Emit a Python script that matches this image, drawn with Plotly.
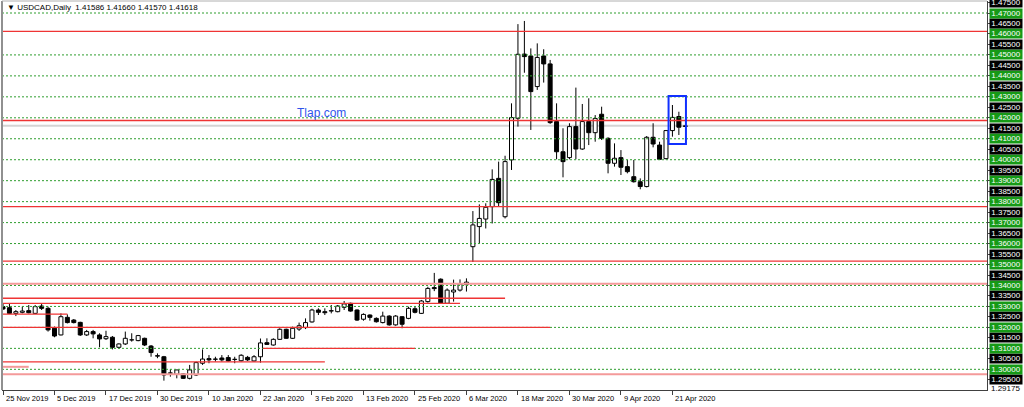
import numpy as np
import plotly.graph_objects as go

# USDCAD daily bars, 25 Nov 2019 .. 23 Apr 2020 (bar index 0..106)
opens = [
    1.3299, 1.3294, 1.3267, 1.3272, 1.3280, 1.3267, 1.3302, 1.3291, 1.3196, 1.3164,
    1.3248, 1.3235, 1.3224, 1.3164, 1.3180, 1.3164, 1.3146, 1.3153, 1.3105, 1.3121,
    1.3140, 1.3137, 1.3148, 1.3111, 1.3065, 1.3060, 1.2981, 1.2976, 1.2978, 1.2957,
    1.2973, 1.3029, 1.3051, 1.3049, 1.3054, 1.3056, 1.3048, 1.3041, 1.3057, 1.3040,
    1.3060, 1.3127, 1.3116, 1.3143, 1.3191, 1.3148, 1.3192, 1.3199, 1.3226, 1.3283,
    1.3275, 1.3278, 1.3275, 1.3296, 1.3315, 1.3283, 1.3239, 1.3259, 1.3243, 1.3223,
    1.3254, 1.3212, 1.3251, 1.3243, 1.3289, 1.3267, 1.3323, 1.3390, 1.3430, 1.3315,
    1.3369, 1.3378, 1.3404, 1.3585, 1.3681, 1.3717, 1.3776, 1.3911, 1.3728, 1.3999,
    1.4198, 1.4504, 1.4495, 1.4349, 1.4495, 1.4457, 1.4182, 1.4038, 1.4010, 1.4158,
    1.4051, 1.4182, 1.4129, 1.4217, 1.4102, 1.3983, 1.4010, 1.3967, 1.3919, 1.3895,
    1.3872, 1.4107, 1.4070, 1.4005, 1.4139, 1.4206, 1.41586,
]
highs = [
    1.3315, 1.3315, 1.3283, 1.3299, 1.3307, 1.3307, 1.3315, 1.3299, 1.3204, 1.3267,
    1.3262, 1.3240, 1.3227, 1.3188, 1.3188, 1.3172, 1.3184, 1.3159, 1.3124, 1.3180,
    1.3172, 1.3164, 1.3151, 1.3116, 1.3076, 1.3064, 1.3000, 1.2997, 1.2981, 1.3021,
    1.3037, 1.3095, 1.3068, 1.3060, 1.3068, 1.3068, 1.3060, 1.3072, 1.3064, 1.3068,
    1.3147, 1.3148, 1.3148, 1.3196, 1.3194, 1.3204, 1.3223, 1.3243, 1.3289, 1.3291,
    1.3291, 1.3307, 1.3307, 1.3326, 1.3318, 1.3286, 1.3267, 1.3262, 1.3248, 1.3275,
    1.3258, 1.3259, 1.3254, 1.3299, 1.3302, 1.3331, 1.3394, 1.3460, 1.3434, 1.3386,
    1.3428, 1.3429, 1.3434, 1.3755, 1.3787, 1.3792, 1.3954, 1.3991, 1.4019, 1.4269,
    1.4647, 1.4662, 1.4531, 1.4555, 1.4527, 1.4476, 1.4269, 1.4150, 1.4174, 1.4344,
    1.4266, 1.4293, 1.4213, 1.4253, 1.4107, 1.4078, 1.4046, 1.3999, 1.3999, 1.3911,
    1.4113, 1.4174, 1.4086, 1.4142, 1.4261, 1.4229, 1.41660,
]
lows = [
    1.3283, 1.3264, 1.3254, 1.3267, 1.3267, 1.3264, 1.3283, 1.3180, 1.3153, 1.3162,
    1.3219, 1.3219, 1.3159, 1.3159, 1.3148, 1.3105, 1.3140, 1.3095, 1.3100, 1.3116,
    1.3132, 1.3134, 1.3111, 1.3060, 1.3053, 1.2946, 1.2965, 1.2957, 1.2954, 1.2952,
    1.2968, 1.3021, 1.3029, 1.3037, 1.3037, 1.3037, 1.3029, 1.3037, 1.3040, 1.3037,
    1.3032, 1.3116, 1.3113, 1.3140, 1.3145, 1.3145, 1.3183, 1.3192, 1.3223, 1.3259,
    1.3259, 1.3267, 1.3272, 1.3283, 1.3275, 1.3231, 1.3232, 1.3232, 1.3223, 1.3219,
    1.3208, 1.3208, 1.3196, 1.3239, 1.3267, 1.3264, 1.3318, 1.3373, 1.3312, 1.3312,
    1.3323, 1.3371, 1.3371, 1.3512, 1.3601, 1.3672, 1.3696, 1.3776, 1.3720, 1.3951,
    1.4158, 1.4415, 1.4142, 1.4333, 1.4368, 1.4171, 1.4002, 1.3916, 1.4002, 1.4002,
    1.4047, 1.4070, 1.4086, 1.4094, 1.3935, 1.3967, 1.3927, 1.3935, 1.3891, 1.3859,
    1.3868, 1.4059, 1.3999, 1.4002, 1.4110, 1.4118, 1.41570,
]
closes = [
    1.3288, 1.3267, 1.3275, 1.3278, 1.3270, 1.3299, 1.3291, 1.3188, 1.3159, 1.3251,
    1.3223, 1.3223, 1.3164, 1.3180, 1.3169, 1.3145, 1.3156, 1.3105, 1.3121, 1.3148,
    1.3141, 1.3161, 1.3116, 1.3080, 1.3063, 1.2973, 1.2983, 1.2997, 1.2957, 1.2997,
    1.3032, 1.3049, 1.3045, 1.3048, 1.3045, 1.3040, 1.3047, 1.3067, 1.3045, 1.3060,
    1.3126, 1.3119, 1.3143, 1.3191, 1.3148, 1.3196, 1.3208, 1.3223, 1.3283, 1.3272,
    1.3270, 1.3280, 1.3302, 1.3312, 1.3278, 1.3235, 1.3262, 1.3248, 1.3227, 1.3254,
    1.3212, 1.3254, 1.3215, 1.3291, 1.3272, 1.3326, 1.3386, 1.3385, 1.3315, 1.3378,
    1.3378, 1.3407, 1.3416, 1.3689, 1.3720, 1.3773, 1.3906, 1.3795, 1.3991, 1.4201,
    1.4503, 1.4492, 1.4325, 1.4488, 1.4457, 1.4177, 1.4038, 1.3991, 1.4158, 1.4051,
    1.4182, 1.4129, 1.4197, 1.4102, 1.3983, 1.4007, 1.3964, 1.3943, 1.3895, 1.3872,
    1.4107, 1.4075, 1.4002, 1.4139, 1.4202, 1.4155, 1.41618,
]

date_labels = [
    "25 Nov 2019", "5 Dec 2019", "17 Dec 2019", "30 Dec 2019", "10 Jan 2020",
    "22 Jan 2020", "3 Feb 2020", "13 Feb 2020", "25 Feb 2020", "6 Mar 2020",
    "18 Mar 2020", "30 Mar 2020", "9 Apr 2020", "21 Apr 2020",
]
bars_per_label = 8

# horizontal line objects on the chart
green_levels = [1.30, 1.31, 1.32, 1.33, 1.34, 1.35, 1.36, 1.37, 1.38,
                1.39, 1.40, 1.41, 1.42, 1.43, 1.44, 1.45, 1.47]
red_levels = [1.4612, 1.4187, 1.3776, 1.3516]
pink_levels = [1.3408, 1.2977]
# short red segments: price, first bar, last bar (None = from the left edge)
seg_levels = [1.3339, 1.3315, 1.3263, 1.3200, 1.3100, 1.3036, 1.3012]
seg_start = [None, None, None, None, 40.4, None, None]
seg_end = [78, 71, 10, 85, 64, 50, 4]
seg_pink = [False, False, False, False, False, False, True]

box_bars = [103.4, 106.1]
box_prices = [1.4075, 1.4304]

bottom_price = 1.29175

# ---- geometry (MT4 window: 6.44 px per bar, ~2096 px per 1.0 price)
X_RANGE = [-0.155, 152.87]
Y_RANGE = [1.290134, 1.475725]
PLOT_L, PLOT_R, PLOT_T, PLOT_B = 2, 987, 1, 390


def px_x(px):
    return (px - PLOT_L) / (PLOT_R - PLOT_L)


def px_y(py):
    return (PLOT_B - py) / (PLOT_B - PLOT_T)


o = np.array(opens)
h = np.array(highs)
l = np.array(lows)
c = np.array(closes)
idx = np.arange(len(o))
body_lo = np.minimum(o, c)
body_hi = np.maximum(o, c)
fill = ["white" if cc >= oo else "black" for oo, cc in zip(o, c)]

wx, wy = [], []
for i in idx:
    wx += [i, i, None, i, i, None]
    wy += [h[i], body_hi[i], None, body_lo[i], l[i], None]

fig = go.Figure()
fig.add_trace(go.Scatter(x=wx, y=wy, mode="lines",
                         line=dict(color="black", width=1), hoverinfo="skip"))
fig.add_trace(go.Bar(x=idx, y=body_hi - body_lo, base=body_lo, width=0.62,
                     marker=dict(color=fill, line=dict(color="black", width=1))))

shapes = []
# bid line
shapes.append(dict(type="line", xref="paper", x0=0, x1=1, y0=closes[-1], y1=closes[-1],
                   line=dict(color="#d4d4d4", width=2), layer="below"))
for v in green_levels:
    shapes.append(dict(type="line", xref="paper", x0=0, x1=1, y0=v, y1=v,
                       line=dict(color="#2f9e2f", width=1, dash="2px,2px")))
for v in red_levels:
    shapes.append(dict(type="line", xref="paper", x0=0, x1=1, y0=v, y1=v,
                       line=dict(color="#ef3434", width=1.3)))
for v in pink_levels:
    shapes.append(dict(type="line", xref="paper", x0=0, x1=1, y0=v, y1=v,
                       line=dict(color="#f49a9a", width=2)))
for v, s, e, pk in zip(seg_levels, seg_start, seg_end, seg_pink):
    shapes.append(dict(type="line", x0=X_RANGE[0] if s is None else s, x1=e, y0=v, y1=v,
                       line=dict(color="#f49a9a" if pk else "#ef3434",
                                 width=2 if pk else 1.3)))
shapes.append(dict(type="rect", x0=box_bars[0], x1=box_bars[1],
                   y0=box_prices[0], y1=box_prices[1],
                   line=dict(color="#1030ff", width=2)))
# window frame
shapes.append(dict(type="line", xref="paper", yref="paper", x0=0, x1=0, y0=0, y1=1,
                   line=dict(color="#909090", width=2)))
shapes.append(dict(type="line", xref="paper", yref="paper", x0=0, x1=1, y0=1, y1=1,
                   line=dict(color="#b0b0b0", width=1)))

ann = []
ann.append(dict(xref="paper", yref="paper", x=px_x(5), y=px_y(7.5),
                xanchor="left", yanchor="middle", showarrow=False,
                text=f"▼ USDCAD,Daily  {opens[-1]:.5f} {highs[-1]:.5f} "
                     f"{lows[-1]:.5f} {closes[-1]:.5f}",
                font=dict(family="Liberation Sans", size=8, color="black")))
ann.append(dict(xref="paper", yref="paper", x=px_x(295), y=px_y(113),
                xanchor="left", yanchor="middle", showarrow=False, text="Tlap.com",
                font=dict(family="Liberation Sans", size=12, color="#2f54eb")))

price_ticks = [round(1.295 + 0.005 * k, 3) for k in range(37)]
for v in price_ticks:
    green = round(v * 1000) % 10 == 0
    ann.append(dict(xref="paper", yref="y", x=1, y=v, xanchor="left", yanchor="middle",
                    xshift=2, showarrow=False, text=f"{v:.5f}", width=32, height=9,
                    borderpad=0, bgcolor="#169a16" if green else "black",
                    font=dict(family="Liberation Sans", size=8, color="white")))
ann.append(dict(xref="paper", yref="y", x=1, y=bottom_price, xanchor="left",
                yanchor="middle", xshift=2, yshift=-2, showarrow=False,
                text=f"{bottom_price:.5f}",
                font=dict(family="Liberation Sans", size=8, color="black")))

tick_pos = [k * bars_per_label for k in range(len(date_labels))]
for p, t in zip(tick_pos, date_labels):
    ann.append(dict(xref="x", yref="paper", x=p, y=0, xanchor="left", yanchor="top",
                    xshift=1, yshift=-2, showarrow=False, text=t,
                    font=dict(family="Liberation Sans", size=7.5, color="black")))

fig.update_layout(
    width=1024, height=407,
    margin=dict(l=PLOT_L, r=1024 - PLOT_R, t=PLOT_T, b=407 - PLOT_B, pad=0),
    paper_bgcolor="white", plot_bgcolor="white",
    showlegend=False, hovermode=False,
    shapes=shapes, annotations=ann,
    xaxis=dict(range=X_RANGE, showgrid=False, zeroline=False, showline=True,
               linecolor="#404040", linewidth=1, ticks="outside", ticklen=4,
               tickcolor="#404040", tickvals=tick_pos, showticklabels=False,
               fixedrange=True),
    yaxis=dict(range=Y_RANGE, side="right", showgrid=False, zeroline=False,
               showline=True, linecolor="#404040", linewidth=1, ticks="outside",
               ticklen=3, tickcolor="#404040", tickvals=price_ticks,
               showticklabels=False, fixedrange=True),
)

# the page's default 8px body margin would shift the whole chart
fig.write_html("out.html", config={"displayModeBar": False},
               post_script="document.body.style.margin='0';")
